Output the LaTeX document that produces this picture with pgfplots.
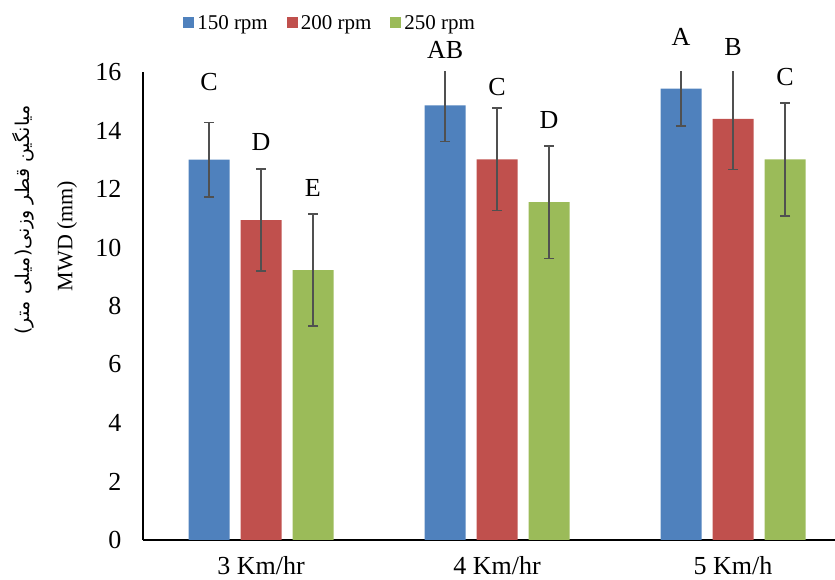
\documentclass[border=0pt]{standalone}
\usepackage{pgfplots}
\pgfplotsset{compat=1.18}
\usepackage{fontspec}
\setmainfont{Liberation Serif}
\newfontfamily\arabicfont[Script=Arabic]{DejaVu Sans}
\TeXXeTstate=1
\definecolor{cblue}{HTML}{4F81BD}
\definecolor{cred}{HTML}{C0504D}
\definecolor{cgreen}{HTML}{9BBB59}
\definecolor{cerr}{HTML}{505050}
\begin{document}
\begin{tikzpicture}
\useasboundingbox (0,0) rectangle (835bp,580bp);
\begin{axis}[
 at={(143bp,40bp)}, anchor=south west,
 width=708bp, height=468bp, scale only axis,
 xmin=-0.5, xmax=2.5, ymin=0, ymax=16,
 axis lines*=left, axis line style={line width=1.5bp, black},
 major tick length=0pt,
 xtick={0,1,2}, xticklabels={3 Km/hr,4 Km/hr,5 Km/h},
 ytick={0,2,...,16},
 tick label style={font=\fontsize{26bp}{30bp}\selectfont},
 /pgf/number format/assume math mode=true,
 yticklabel style={xshift=-18bp},
 xticklabel style={yshift=-13bp},
 ybar, bar width=41bp,
 clip mode=individual,
 error bars/y dir=both, error bars/y explicit,
 error bars/error bar style={line width=1.6bp,cerr},
 error bars/error mark options={rotate=90,mark size=5bp,line width=1.6bp,cerr},
 legend columns=3,
 legend image code/.code={\fill[#1] (0bp,-5.5bp) rectangle (11bp,5.5bp);},
 legend style={at={(0.265,1.105)}, anchor=center, draw=none, fill=none,
   font=\fontsize{21bp}{24bp}\selectfont,
   nodes={inner xsep=3bp},
   /tikz/every even column/.append style={column sep=16bp}},
]
\addplot[fill=cblue, draw=none, bar shift=-52bp] coordinates {(0,13.00) +- (0,1.27) (1,14.86) +- (0,1.24) (2,15.43) +- (0,1.27)};
\addplot[fill=cred, draw=none, bar shift=0bp] coordinates {(0,10.94) +- (0,1.75) (1,13.01) +- (0,1.75) (2,14.40) +- (0,1.73)};
\addplot[fill=cgreen, draw=none, bar shift=52bp] coordinates {(0,9.23) +- (0,1.92) (1,11.55) +- (0,1.92) (2,13.01) +- (0,1.93)};
\legend{150 rpm,200 rpm,250 rpm}
\begin{scope}[every node/.style={font=\fontsize{26bp}{30bp}\selectfont}]
\node at (axis cs:-0.22,15.67) {C};
\node at (axis cs:0,13.62) {D};
\node at (axis cs:0.22,12.03) {E};
\node at (axis cs:0.78,16.75) {AB};
\node at (axis cs:1,15.50) {C};
\node at (axis cs:1.22,14.36) {D};
\node at (axis cs:1.78,17.2) {A};
\node at (axis cs:2,16.85) {B};
\node at (axis cs:2.22,15.82) {C};
\end{scope}
\end{axis}
\node[rotate=90, font=\arabicfont\fontsize{19bp}{22bp}\selectfont] at (23bp,360bp) {\beginR میانگین قطر وزنی(میلی متر)\endR};
\node[rotate=90, font=\fontsize{22bp}{26bp}\selectfont] at (67bp,344bp) {MWD (mm)};
\end{tikzpicture}
\end{document}
